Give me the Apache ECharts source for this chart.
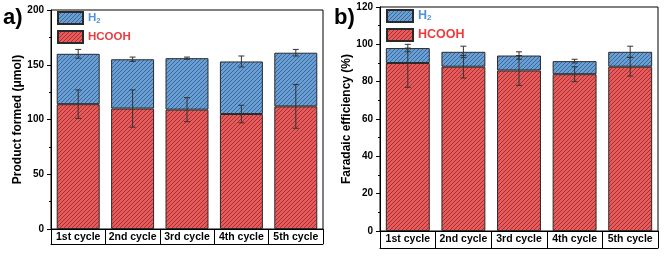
<!DOCTYPE html>
<html>
<head>
<meta charset="utf-8">
<script src="https://cdn.jsdelivr.net/npm/echarts@6/dist/echarts.min.js"></script>
<style>
  html, body { margin: 0; padding: 0; background: #fff; }
  #chart { width: 666px; height: 259px; }
</style>
</head>
<body>
<div id="chart"></div>
<script>
const cats = ["1st cycle", "2nd cycle", "3rd cycle", "4th cycle", "5th cycle"];

// a) product formed (umol)
const hcoohA = [114, 110, 109, 105, 112];
const totalA = [160, 155, 156, 153, 161];
const hcoohErrA = [13, 17, 11, 8, 20];
const totalErrA = [4, 2, 1, 5, 3];

// b) faradaic efficiency (%)
const hcoohB = [90, 88, 86, 84, 88];
const totalB = [98, 96, 94, 91, 96];
const hcoohLoB = [77, 82, 78, 80, 83];
const hcoohHiB = [98, 94, 94, 88, 93];
const totalErrB = [2, 3, 2, 1, 3];

const font = "'Liberation Sans', Arial, sans-serif";

function hatch(bg, fg) {
  const c = document.createElement("canvas");
  c.width = 4;
  c.height = 4;
  const g = c.getContext("2d");
  g.fillStyle = bg;
  g.fillRect(0, 0, 4, 4);
  g.strokeStyle = fg;
  g.lineWidth = 1;
  g.beginPath();
  g.moveTo(-1, 5); g.lineTo(5, -1);
  g.moveTo(-1, 1); g.lineTo(1, -1);
  g.moveTo(3, 5); g.lineTo(5, 3);
  g.stroke();
  return { image: c, repeat: "repeat" };
}
const redFill = hatch("#e65b5c", "#a92e30");
const blueFill = hatch("#6a9fd5", "#3a6898");

function errSeries(gridIdx, lo, hi) {
  return {
    type: "custom",
    xAxisIndex: gridIdx * 2,
    yAxisIndex: gridIdx,
    z: 5,
    silent: true,
    data: cats.map((c, i) => [i, lo[i], hi[i]]),
    renderItem: function (params, api) {
      const a = api.coord([api.value(0), api.value(1)]);
      const b = api.coord([api.value(0), api.value(2)]);
      const st = { stroke: "#333", lineWidth: 1 };
      return {
        type: "group",
        children: [
          { type: "line", shape: { x1: a[0], y1: a[1], x2: b[0], y2: b[1] }, style: st },
          { type: "line", shape: { x1: a[0] - 3, y1: a[1], x2: a[0] + 3, y2: a[1] }, style: st },
          { type: "line", shape: { x1: b[0] - 3, y1: b[1], x2: b[0] + 3, y2: b[1] }, style: st },
        ],
      };
    },
  };
}

function barSeries(gridIdx, name, data, fill) {
  return {
    name: name,
    type: "bar",
    stack: "s" + gridIdx,
    xAxisIndex: gridIdx * 2,
    yAxisIndex: gridIdx,
    barWidth: "79%",
    data: data,
    itemStyle: { color: fill, borderColor: "#2a2a2a", borderWidth: 1 },
  };
}

function xAxes(gridIdx, rowH) {
  return [
    {
      type: "category",
      gridIndex: gridIdx,
      data: cats,
      axisLine: { lineStyle: { color: "#000", width: 1 } },
      axisTick: { show: true, interval: 0, length: rowH, lineStyle: { color: "#000" } },
      axisLabel: { interval: 0, margin: 3, color: "#000", fontWeight: "bold", fontSize: 10.5, fontFamily: font },
    },
    {
      type: "category",
      gridIndex: gridIdx,
      data: cats,
      position: "bottom",
      offset: rowH,
      axisLine: { lineStyle: { color: "#000", width: 1 } },
      axisTick: { show: false },
      axisLabel: { show: false },
    },
  ];
}

function yAxis(gridIdx, max, interval, name, gap) {
  return {
    type: "value",
    gridIndex: gridIdx,
    min: 0,
    max: max,
    interval: interval,
    name: name,
    nameLocation: "middle",
    nameGap: gap,
    nameTextStyle: { color: "#000", fontWeight: "bold", fontSize: 12, fontFamily: font },
    axisLine: { show: true, lineStyle: { color: "#000" } },
    axisTick: { show: true, length: 4, lineStyle: { color: "#000" } },
    minorTick: { show: true, splitNumber: 2, length: 2, lineStyle: { color: "#000" } },
    splitLine: { show: false },
    axisLabel: { margin: 7, color: "#000", fontWeight: "bold", fontSize: 10, fontFamily: font },
  };
}

function legend(left, top, w, size) {
  return {
    orient: "vertical",
    left: left,
    top: top,
    padding: 0,
    itemWidth: w,
    itemHeight: 12,
    itemGap: 5,
    icon: "rect",
    data: ["H2", "HCOOH"],
    formatter: function (n) {
      return n === "H2" ? "{b|H}{s|2}" : "{r|HCOOH}";
    },
    textStyle: {
      fontFamily: font,
      fontWeight: "bold",
      lineHeight: 12,
      rich: {
        b: { color: "#4f92d8", fontSize: size, fontWeight: "bold", fontFamily: font },
        s: { color: "#4f92d8", fontSize: size * 0.65, fontWeight: "bold", fontFamily: font, verticalAlign: "bottom", padding: [5, 0, 0, 0] },
        r: { color: "#ec3b40", fontSize: size, fontWeight: "bold", fontFamily: font },
      },
    },
  };
}

const chart = echarts.init(document.getElementById("chart"));
chart.setOption({
  animation: false,
  backgroundColor: "#fff",
  grid: [
    { left: 51, right: 343, top: 10, bottom: 30, show: true, borderColor: "#000", borderWidth: 1 },
    { left: 380, right: 8, top: 7, bottom: 28, show: true, borderColor: "#000", borderWidth: 1 },
  ],
  legend: [legend(57, 11, 25, 11.5), legend(386, 9, 26, 12.5)],
  xAxis: xAxes(0, 15).concat(xAxes(1, 17)),
  yAxis: [
    yAxis(0, 200, 50, "Product formed (μmol)", 23),
    yAxis(1, 120, 20, "Faradaic efficiency (%)", 24),
  ],
  graphic: [
    { type: "text", left: 3, top: 7, style: { text: "a)", font: "bold 22px " + font, fill: "#000" } },
    { type: "text", left: 334, top: 7, style: { text: "b)", font: "bold 22px " + font, fill: "#000" } },
  ],
  series: [
    barSeries(0, "HCOOH", hcoohA, redFill),
    barSeries(0, "H2", totalA.map((t, i) => t - hcoohA[i]), blueFill),
    errSeries(0, hcoohA.map((v, i) => v - hcoohErrA[i]), hcoohA.map((v, i) => v + hcoohErrA[i])),
    errSeries(0, totalA.map((v, i) => v - totalErrA[i]), totalA.map((v, i) => v + totalErrA[i])),
    barSeries(1, "HCOOH", hcoohB, redFill),
    barSeries(1, "H2", totalB.map((t, i) => t - hcoohB[i]), blueFill),
    errSeries(1, hcoohLoB, hcoohHiB),
    errSeries(1, totalB.map((v, i) => v - totalErrB[i]), totalB.map((v, i) => v + totalErrB[i])),
  ],
});
</script>
</body>
</html>
